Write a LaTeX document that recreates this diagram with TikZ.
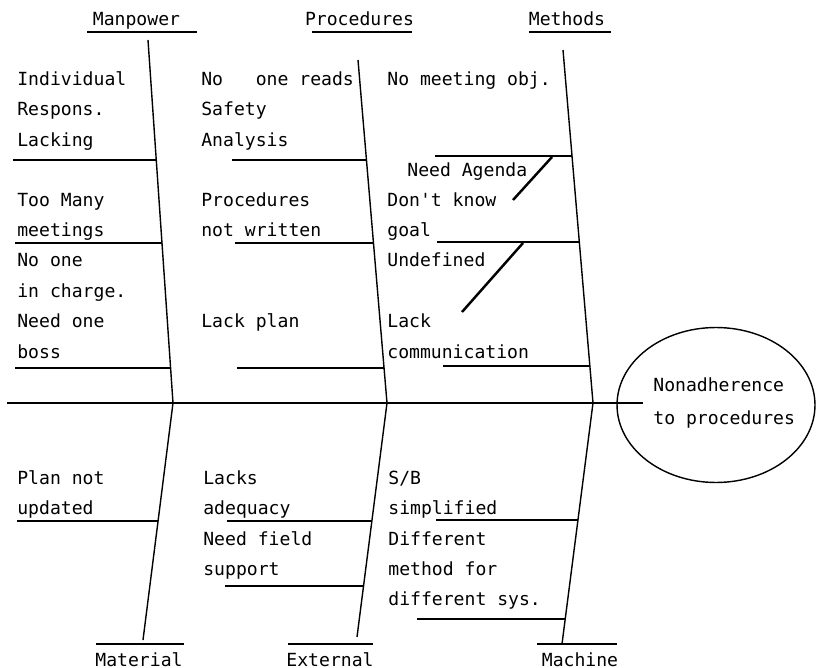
\documentclass[tikz,border=0pt]{standalone}
\usepackage{fontspec}
\newfontfamily\fishfont{DejaVu Sans Mono}
\usetikzlibrary{shapes.geometric}

\tikzset{
  spine/.style={line width=0.8pt},
  bone/.style={line width=1.1pt},
  subbone/.style={line width=1.4pt},
  cause/.style={anchor=base west,inner sep=0pt},
  head/.style={anchor=base,inner sep=0pt},
}

\begin{document}
\begin{tikzpicture}[x=0.02cm,y=-0.02cm,every node/.style={font=\fishfont\fontsize{10.3}{12}\selectfont}]
  \useasboundingbox (0,0) rectangle (831,668);
  % spine end points
  \coordinate (mpT) at (148,40);  \coordinate (mpA) at (173,403); \coordinate (mpB) at (143,640);
  \coordinate (prT) at (358,60);  \coordinate (prA) at (387,403); \coordinate (prB) at (357,637);
  \coordinate (meT) at (563,50);  \coordinate (meA) at (593,403); \coordinate (meB) at (562,644);
  \coordinate (axL) at (7,403);   \coordinate (axR) at (643,403);

  % effect
  \node[draw,ellipse,minimum width=3.96cm,minimum height=3.1cm,inner sep=0pt,line width=0.8pt] (eff) at (716,405) {};
  \node[cause] (eff1) at (653,392) {Nonadherence};
  \node[cause] (eff2) at (653,424) {to procedures};

  % main axis and spines
  \draw[line width=0.9pt] (axL) -- (axR);
  \draw[spine] (mpT) -- (mpA) -- (mpB);
  \draw[spine] (prT) -- (prA) -- (prB);
  \draw[spine] (meT) -- (meA) -- (meB);

  % category headings
  \node[head] (hMan) at (136.5,26) {Manpower};
  \node[head] (hPro) at (359.5,26) {Procedures};
  \node[head] (hMet) at (567,26) {Methods};
  \node[head] (hMat) at (139,666) {Material};
  \node[head] (hExt) at (330,666) {External};
  \node[head] (hMac) at (580,666) {Machine};
  \draw[bone] (87,32) -- (197,32);
  \draw[bone] (312,32) -- (412,32);
  \draw[bone] (529,32) -- (611,32);
  \draw[bone] (96,644) -- (184,644);
  \draw[bone] (288,644) -- (373,644);
  \draw[bone] (537,644) -- (617,644);

  % branches
  \draw[bone] (13,160) -- (156,160);
  \draw[bone] (15,243) -- (162,243);
  \draw[bone] (15,368) -- (170,368);
  \draw[bone] (232,160) -- (366,160);
  \draw[bone] (235,243) -- (373,243);
  \draw[bone] (237,368) -- (384,368);
  \draw[bone] (435,156) -- (572,156);
  \draw[bone] (437,242) -- (579,242);
  \draw[bone] (443,366) -- (590,366);
  \draw[bone] (17,521) -- (158,521);
  \draw[bone] (227,521) -- (372,521);
  \draw[bone] (225,586) -- (363,586);
  \draw[bone] (436,520) -- (578,520);
  \draw[bone] (417,619) -- (565,619);
  \draw[subbone] (552,157) -- (513,200);
  \draw[subbone] (523,243) -- (462,312);

  % causes
  \foreach \x/\y/\t [count=\i] in {
    17/86/Individual, 17/116/Respons., 17/147/Lacking,
    17/207/Too Many, 17/237/meetings, 17/267/No one,
    17/298/in charge., 17/328/Need one, 17/359/boss,
    201/86/No\ \ \ one reads, 201/116/Safety, 201/147/Analysis,
    201/207/Procedures, 201/237/not written, 201/328/Lack plan,
    387/86/No meeting obj., 407/177/Need Agenda,
    387/207/Don\textquotesingle t know, 387/237/goal, 387/267/Undefined,
    387/328/Lack, 387/359/communication,
    17/484/Plan not, 17/514/updated,
    203/484/Lacks, 203/514/adequacy, 203/545/Need field, 203/575/support,
    388/514/simplified, 388/545/Different, 388/575/method for,
    388/605/different sys.}
    \node[cause] (c\i) at (\x,\y) {\t};
  \node[cause] (cSB) at (388,484) {S/B};
\end{tikzpicture}
\end{document}
